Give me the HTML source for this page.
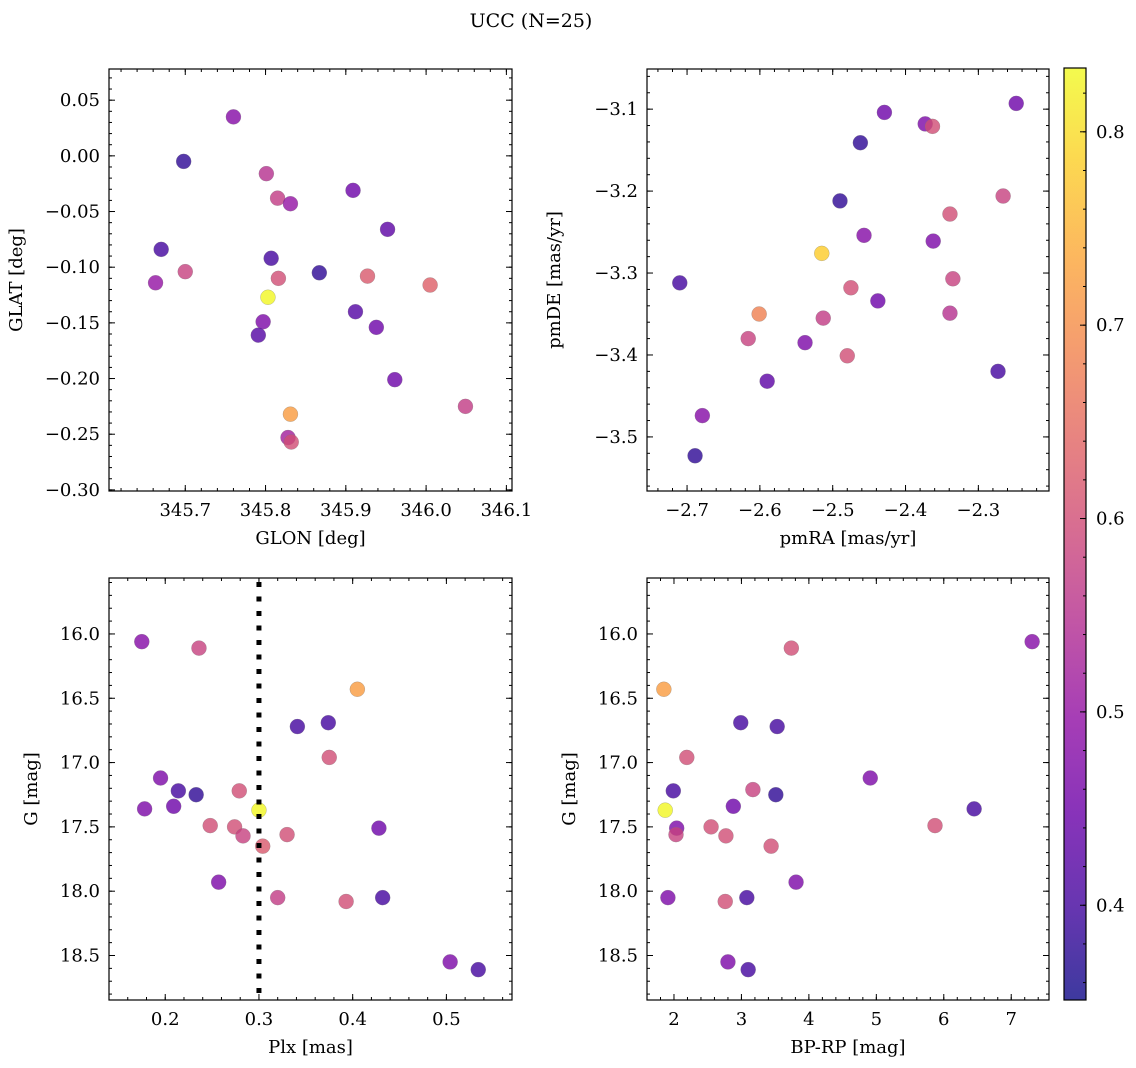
<!DOCTYPE html>
<html><head><meta charset="utf-8"><style>
body{margin:0;background:#fff}
svg{display:block;font-family:"DejaVu Serif","Liberation Serif",serif}
</style></head><body>
<svg id="fig" width="1136" height="1068" viewBox="0 0 1136 1068" xmlns="http://www.w3.org/2000/svg">
<rect width="1136" height="1068" fill="#fff"/>
<text x="531" y="27" font-size="19" text-anchor="middle">UCC (N=25)</text>
</svg>
<script>
// Panel 1 data
const glon=[345.760,345.698,345.801,345.815,345.831,345.909,345.952,345.670,345.807,345.867,345.663,345.700,345.816,345.927,346.005,345.803,345.797,345.791,345.912,345.938,345.961,345.831,346.049,345.828,345.832];
const glat=[0.035,-0.005,-0.016,-0.038,-0.043,-0.031,-0.066,-0.084,-0.092,-0.105,-0.114,-0.104,-0.110,-0.108,-0.116,-0.127,-0.149,-0.161,-0.140,-0.154,-0.201,-0.232,-0.225,-0.253,-0.257];
const c1=[.48,.38,.55,.57,.5,.45,.43,.40,.40,.38,.5,.58,.6,.62,.63,.83,.47,.42,.42,.45,.45,.72,.57,.52,.6];
// Panel 2 data
const pmra=[-2.248,-2.429,-2.373,-2.363,-2.462,-2.490,-2.266,-2.339,-2.457,-2.362,-2.515,-2.710,-2.335,-2.601,-2.475,-2.438,-2.513,-2.616,-2.339,-2.538,-2.480,-2.590,-2.273,-2.679,-2.689];
const pmde=[-3.093,-3.104,-3.118,-3.121,-3.141,-3.212,-3.206,-3.228,-3.254,-3.261,-3.276,-3.312,-3.307,-3.350,-3.318,-3.334,-3.355,-3.380,-3.349,-3.385,-3.401,-3.432,-3.420,-3.474,-3.523];
const c2=[.45,.45,.47,.6,.38,.38,.58,.6,.48,.47,.78,.4,.58,.68,.6,.45,.57,.58,.55,.47,.6,.43,.4,.48,.38];
// Panel 3 data
const plx=[0.175,0.236,0.405,0.374,0.341,0.375,0.195,0.214,0.233,0.279,0.178,0.209,0.248,0.274,0.300,0.283,0.304,0.330,0.428,0.257,0.320,0.432,0.393,0.504,0.534];
const g3=[16.06,16.11,16.43,16.69,16.72,16.96,17.12,17.22,17.25,17.22,17.36,17.34,17.49,17.50,17.37,17.57,17.65,17.56,17.51,17.93,18.05,18.05,18.08,18.55,18.61];
const c3=[.48,.58,.72,.4,.4,.6,.47,.4,.38,.6,.47,.45,.6,.6,.83,.58,.62,.6,.45,.47,.57,.4,.6,.47,.4];
// Panel 4 data
const bprp=[7.31,3.74,1.85,2.99,3.53,2.19,1.99,4.91,3.17,3.51,2.04,2.88,5.87,2.55,1.87,2.03,2.77,6.45,3.44,3.81,1.91,3.08,2.76,2.80,3.10];
const g4=[16.06,16.11,16.43,16.69,16.72,16.96,17.22,17.12,17.21,17.25,17.51,17.34,17.49,17.50,17.37,17.56,17.57,17.36,17.65,17.93,18.05,18.05,18.08,18.55,18.61];
const c4=[.48,.6,.72,.4,.4,.6,.4,.47,.58,.38,.47,.45,.6,.6,.83,.58,.6,.4,.6,.47,.47,.4,.6,.47,.4];
const plxLine=[0.3];
const cbTicks=[0.4,0.5,0.6,0.7,0.8];

const NS="http://www.w3.org/2000/svg";
const svg=document.getElementById('fig');
function mk(tag,attrs,parent){const e=document.createElementNS(NS,tag);for(const k in attrs)e.setAttribute(k,attrs[k]);(parent||svg).appendChild(e);return e;}
const stops=[[13,8,135],[65,4,157],[106,0,168],[143,13,164],[177,42,144],[204,71,120],[225,100,98],[242,132,75],[252,166,54],[252,206,37],[240,249,33]];
function plasma(t){t=Math.max(0,Math.min(1,t))*10;const i=Math.min(9,Math.floor(t)),f=t-i;const a=stops[i],b=stops[i+1];return 'rgb('+a.map((v,k)=>Math.round(v+(b[k]-v)*f)).join(',')+')';}
const VMIN=0.351,VMAX=0.833;
function fmt(v,d){let s=Math.abs(v).toFixed(d);return (v< -1e-9?'\u2212':'')+s;}

function panel(name,box,xl,yl,xmaj,xmin,ymaj,ymin,xd,yd,xs,ys,cs,xlabel,ylabel,invY){
  const [L,T,R,B]=box;
  const g=mk('g',{});  
  const X=v=>L+(v-xl[0])/(xl[1]-xl[0])*(R-L);
  const Y=v=>invY?T+(v-yl[0])/(yl[1]-yl[0])*(B-T):B-(v-yl[0])/(yl[1]-yl[0])*(B-T);
  const tg=mk('g',{stroke:'#000','stroke-width':1},g);
  const eps=1e-9;
  for(let v=Math.ceil(xl[0]/xmin-eps)*xmin;v<=xl[1]+eps;v+=xmin){const x=X(v);mk('line',{x1:x,x2:x,y1:B,y2:B-3},tg);mk('line',{x1:x,x2:x,y1:T,y2:T+3},tg);}
  for(let v=Math.ceil(yl[0]/ymin-eps)*ymin;v<=yl[1]+eps;v+=ymin){const y=Y(v);mk('line',{x1:L,x2:L+3,y1:y,y2:y},tg);mk('line',{x1:R,x2:R-3,y1:y,y2:y},tg);}
  for(let v=Math.ceil(xl[0]/xmaj-eps)*xmaj;v<=xl[1]+eps;v+=xmaj){const x=X(v);mk('line',{x1:x,x2:x,y1:B,y2:B-6},tg);mk('line',{x1:x,x2:x,y1:T,y2:T+6},tg);
    const t=mk('text',{x:x,y:B+25,'font-size':18,'text-anchor':'middle'},g);t.textContent=fmt(v,xd);}
  for(let v=Math.ceil(yl[0]/ymaj-eps)*ymaj;v<=yl[1]+eps;v+=ymaj){const y=Y(v);mk('line',{x1:L,x2:L+6,y1:y,y2:y},tg);mk('line',{x1:R,x2:R-6,y1:y,y2:y},tg);
    const t=mk('text',{x:L-9,y:y+6,'font-size':18,'text-anchor':'end'},g);t.textContent=fmt(v,yd);}
  const xt=mk('text',{x:(L+R)/2,y:B+53,'font-size':18,'text-anchor':'middle'},g);xt.textContent=xlabel;
  
  const yt=mk('text',{x:0,y:0,'font-size':18,'text-anchor':'middle',transform:`translate(${L-(name==='panel-plx-g'||name==='panel-bprp-g'?72:87)},${(T+B)/2}) rotate(-90)`},g);yt.textContent=ylabel;
  
  const pts=mk('g',{},g);
  for(let i=0;i<xs.length;i++){const c=mk('circle',{cx:X(xs[i]),cy:Y(ys[i]),r:7.5,fill:plasma((cs[i]-VMIN)/(VMAX-VMIN)),'fill-opacity':0.8,stroke:'#777','stroke-width':0.5,'stroke-opacity':0.5},pts);
    }
  const fr=mk('rect',{x:L,y:T,width:R-L,height:B-T,fill:'none',stroke:'#000','stroke-width':1.2},g);
  
  return {X,Y,g};
}
panel('panel-glon-glat',[109,69,512,491],[345.605,346.107],[-0.301,0.078],0.1,0.02,0.05,0.01,1,2,glon,glat,c1,'GLON [deg]','GLAT [deg]',false);
panel('panel-pmra-pmde',[647,69,1049,491],[-2.755,-2.203],[-3.566,-3.051],0.1,0.02,0.1,0.02,1,1,pmra,pmde,c2,'pmRA [mas/yr]','pmDE [mas/yr]',false);
const p3=panel('panel-plx-g',[109,578,512,1000],[0.140,0.570],[15.565,18.846],0.1,0.02,0.5,0.1,1,1,plx,g3,c3,'Plx [mas]','G [mag]',true);
panel('panel-bprp-g',[647,578,1049,1000],[1.60,7.56],[15.565,18.846],1,0.2,0.5,0.1,0,1,bprp,g4,c4,'BP-RP [mag]','G [mag]',true);
for(const v of plxLine){const l=mk('line',{x1:p3.X(v),x2:p3.X(v),y1:582,y2:1000,stroke:'#000','stroke-width':5,'stroke-dasharray':'5,9.5'},p3.g);
  }
// colorbar
const cb=mk('g',{});
const CT=68,CB=1000,CL=1064,CR=1086;
const defs=mk('defs',{},cb);const lg=mk('linearGradient',{id:'cbg',x1:0,y1:1,x2:0,y2:0},defs);
for(let i=0;i<=20;i++){mk('stop',{offset:i/20,'stop-color':plasma(i/20),'stop-opacity':0.8},lg);}
mk('rect',{x:CL,y:CT,width:CR-CL,height:CB-CT,fill:'url(#cbg)',stroke:'#000','stroke-width':1.2},cb);
const CY=v=>CB-(v-VMIN)/(VMAX-VMIN)*(CB-CT);
for(let v=0.36;v<=VMAX;v+=0.02){mk('line',{x1:CR,x2:CR-3,y1:CY(v),y2:CY(v),stroke:'#000'},cb);}
for(const v of cbTicks){mk('line',{x1:CR,x2:CR-6,y1:CY(v),y2:CY(v),stroke:'#000'},cb);
  const t=mk('text',{x:CR+10,y:CY(v)+6,'font-size':18},cb);t.textContent=v.toFixed(1);}
</script>
</body></html>
